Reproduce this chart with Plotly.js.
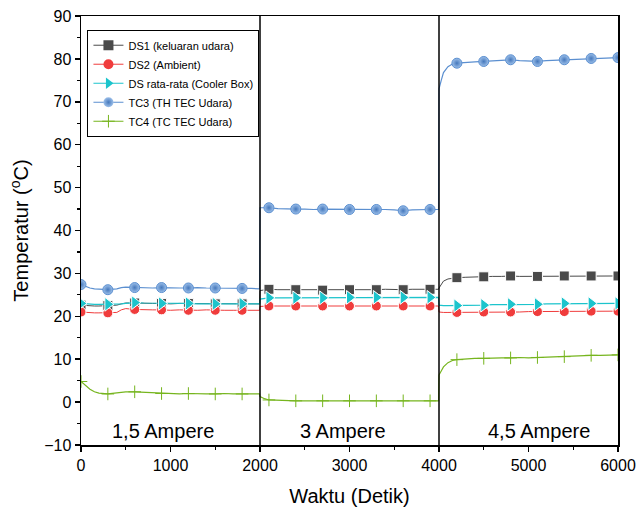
<!DOCTYPE html>
<html>
<head>
<meta charset="utf-8">
<script src="https://cdn.plot.ly/plotly-3.0.1.min.js"></script>
<style>html,body{margin:0;padding:0;background:#fff;}#chart{width:637px;height:515px;}</style>
</head>
<body>
<div id="chart"></div>
<script>
// time (s)
const T = [0,50,100,150,200,300,400,450,500,600,700,800,900,1000,1100,1200,1300,1400,1500,1600,1700,1800,1900,1995,
  2000,2050,2100,2200,2300,2400,2500,2600,2700,2800,2900,3000,3100,3200,3300,3400,3500,3600,3700,3800,3900,3995,
  4000,4025,4050,4100,4150,4200,4300,4400,4500,4600,4700,4800,4900,5000,5100,5200,5300,5400,5500,5600,5700,5800,5900,6000];

const DS1 = [22.6,22.5,22.4,22.4,22.4,22.5,22.6,22.9,23.1,23.1,23.0,23.0,23.0,22.9,23.0,23.0,22.9,23.0,22.9,22.9,22.9,22.9,22.9,22.9,
  26.0,26.2,26.3,26.2,26.2,26.2,26.2,26.1,26.1,26.2,26.2,26.2,26.2,26.2,26.2,26.3,26.2,26.2,26.3,26.3,26.3,26.3,
  26.6,27.5,28.2,28.7,28.9,29.0,29.1,29.2,29.2,29.3,29.3,29.4,29.3,29.3,29.3,29.3,29.4,29.4,29.4,29.4,29.4,29.4,29.4,29.4];

const DS2 = [21.0,20.9,20.8,20.8,20.8,20.8,20.9,21.5,21.8,21.6,21.5,21.5,21.5,21.4,21.5,21.4,21.4,21.5,21.4,21.4,21.4,21.4,21.4,21.4,
  22.3,22.4,22.4,22.4,22.4,22.4,22.4,22.4,22.4,22.4,22.4,22.4,22.4,22.4,22.4,22.4,22.4,22.4,22.4,22.4,22.4,22.4,
  21.0,20.9,20.9,20.9,20.9,20.9,20.9,20.9,21.0,21.0,21.0,21.0,21.0,21.1,21.1,21.1,21.1,21.1,21.2,21.2,21.2,21.2,21.2,21.2];

const DSavg = [23.0,22.9,22.9,22.8,22.8,22.8,22.8,22.9,23.0,23.2,23.1,23.1,23.0,23.0,23.0,23.0,22.9,22.9,22.9,22.9,22.9,22.9,22.9,22.9,
  24.0,24.2,24.3,24.3,24.3,24.3,24.3,24.3,24.3,24.3,24.3,24.4,24.4,24.4,24.4,24.4,24.4,24.4,24.4,24.4,24.4,24.4,
  22.6,22.5,22.5,22.5,22.5,22.5,22.5,22.6,22.6,22.7,22.7,22.8,22.8,22.8,22.8,22.9,22.9,23.0,23.0,23.0,23.0,23.0,23.0,23.0];

const TC3 = [27.4,27.0,26.6,26.4,26.3,26.2,26.4,26.7,26.8,26.7,26.7,26.6,26.7,26.6,26.6,26.6,26.7,26.6,26.6,26.5,26.6,26.5,26.5,26.4,
  45.3,45.3,45.3,45.1,45.0,45.0,45.0,44.9,45.0,45.0,44.9,44.9,45.0,44.9,44.9,44.9,44.8,44.6,44.8,44.9,44.9,44.9,
  73.0,75.0,76.8,78.2,78.8,79.0,79.2,79.3,79.4,79.5,79.6,79.8,79.6,79.5,79.4,79.6,79.7,79.8,79.9,80.0,80.1,80.2,80.3,80.3];

const TC4 = [4.8,3.8,3.0,2.4,2.1,1.9,2.1,2.3,2.4,2.4,2.3,2.1,2.0,2.0,1.9,2.0,1.9,1.9,1.9,2.0,1.9,1.9,1.9,1.9,
  1.3,0.8,0.5,0.4,0.3,0.3,0.3,0.3,0.3,0.3,0.3,0.3,0.3,0.3,0.3,0.3,0.3,0.3,0.3,0.3,0.3,0.3,
  6.3,7.3,8.2,9.2,9.7,9.9,10.1,10.2,10.2,10.3,10.3,10.3,10.4,10.3,10.4,10.5,10.5,10.6,10.7,10.8,10.9,10.9,11.0,11.0];

const names = ['DS1 (keluaran udara)','DS2 (Ambient)','DS rata-rata (Cooler Box)','TC3 (TH TEC Udara)','TC4 (TC TEC Udara)'];
const segLabels = ['1,5 Ampere','3 Ampere','4,5 Ampere'];
const segLabelX = [920, 2930, 5120];
const segBounds = [2000, 4000];

const font = 'Arial, "Liberation Sans", sans-serif';

const styles = [
  {line:{color:'#4a4a4a', width:1}, marker:{symbol:'square', color:'#4a4a4a', size:10}},
  {line:{color:'#f03c3c', width:1}, marker:{symbol:'circle', color:'#f03c3c', size:10}},
  {line:{color:'#1cc4cc', width:1.2}, marker:{symbol:'triangle-right', color:'#1cc4cc', size:12}},
  {line:{color:'#5b8fd0', width:1.2}, marker:{symbol:'circle', color:'#9dc0ea', size:10, gradient:{type:'radial', color:'#4578bc'}}},
  {line:{color:'#76b51e', width:1.2}, marker:{symbol:'cross-thin', color:'#76b51e', size:9, line:{color:'#76b51e', width:1}}}
];
const series = [DS1, DS2, DSavg, TC3, TC4];

const traces = [];
series.forEach((ys, i) => {
  const st = styles[i];
  const m = Object.assign({}, st.marker, {opacity:1, size: T.map(t => (t % 300 === 0 ? st.marker.size : 0))});
  traces.push({x:T, y:ys, name:names[i], mode:'lines+markers', line:st.line, marker:m,
               showlegend:false, legendgroup:'g'+i});
});
// legend entries (no data points of their own)
series.forEach((ys, i) => {
  const st = styles[i];
  traces.push({x:[null], y:[null], name:names[i], mode:'lines+markers', line:st.line,
               marker:Object.assign({}, st.marker, {opacity:1, size: Math.min(st.marker.size, 10)}),
               showlegend:true, legendgroup:'g'+i});
});

const layout = {
  width:637, height:515,
  margin:{l:81, r:19, t:16, b:70},
  paper_bgcolor:'#fff', plot_bgcolor:'#fff',
  font:{family:font, color:'#000'},
  showlegend:true,
  legend:{x:0.012, y:0.968, xanchor:'left', yanchor:'top', bgcolor:'#fff', bordercolor:'#000', borderwidth:1,
          font:{size:11, family:font}, tracegroupgap:0, itemwidth:30},
  xaxis:{range:[0,6000], dtick:1000, tick0:0, ticks:'outside', ticklen:5, tickwidth:1.5, tickcolor:'#000',
         showline:true, linewidth:1.5, linecolor:'#000', mirror:true, showgrid:false, zeroline:false,
         minor:{dtick:500, ticks:'outside', ticklen:3, tickwidth:1.2, tickcolor:'#000', showgrid:false},
         tickfont:{size:16, family:font}, title:{text:'Waktu (Detik)', font:{size:20, family:font}, standoff:16}},
  yaxis:{range:[-10,90], dtick:10, tick0:0, ticks:'outside', ticklen:5, tickwidth:1.5, tickcolor:'#000',
         showline:true, linewidth:1.5, linecolor:'#000', mirror:true, showgrid:false, zeroline:false,
         minor:{dtick:5, ticks:'outside', ticklen:3, tickwidth:1.2, tickcolor:'#000', showgrid:false},
         tickfont:{size:16, family:font}, title:{text:'Temperatur (<sup>o</sup>C)', font:{size:20, family:font}, standoff:10}},
  shapes: segBounds.map(b => ({type:'line', xref:'x', yref:'paper', x0:b, x1:b, y0:0, y1:1, line:{color:'#000', width:1.5}})),
  annotations: segLabels.map((s,i) => ({text:s, x:segLabelX[i], y:-6.8, xref:'x', yref:'y', showarrow:false,
          font:{size:20, family:font, color:'#000'}}))
};

Plotly.newPlot('chart', traces, layout, {displayModeBar:false, staticPlot:true});
</script>
</body>
</html>
